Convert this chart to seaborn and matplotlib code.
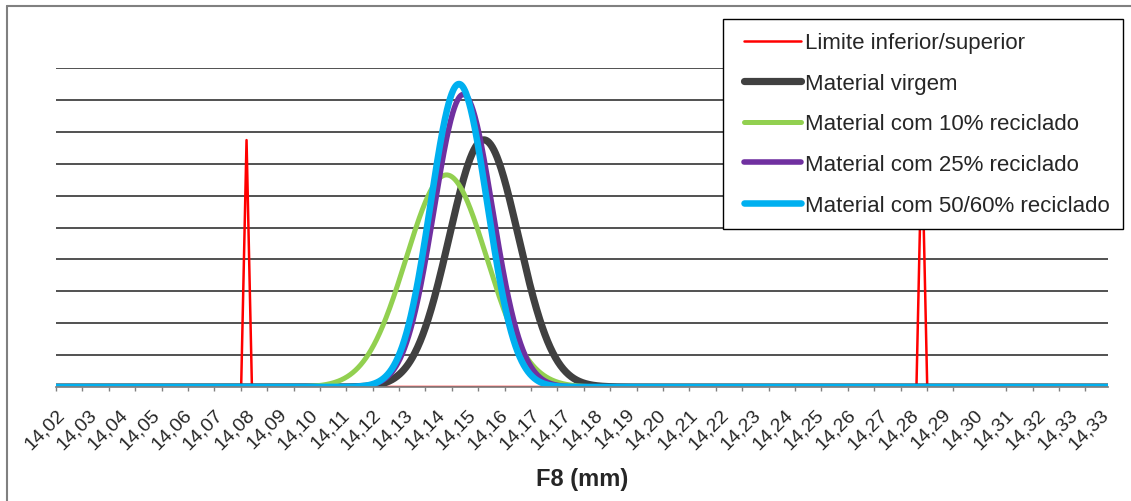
import numpy as np
import pandas as pd
import matplotlib
matplotlib.use('Agg')
import matplotlib.pyplot as plt
import seaborn as sns
from matplotlib.lines import Line2D
from matplotlib.legend_handler import HandlerLine2D
from matplotlib.transforms import ScaledTranslation

# x axis labels as printed in the chart (values rounded to 2 decimals)
tick_labels = ['14,02', '14,03', '14,04', '14,05', '14,06', '14,07', '14,08', '14,09',
               '14,10', '14,11', '14,12', '14,13', '14,14', '14,15', '14,16', '14,17',
               '14,17', '14,18', '14,19', '14,20', '14,21', '14,22', '14,23', '14,24',
               '14,25', '14,26', '14,27', '14,28', '14,29', '14,30', '14,31', '14,32',
               '14,33', '14,33']
label_start = 14.0243
label_step = 0.0094

series = ['Limite inferior/superior', 'Material virgem', 'Material com 10% reciclado',
          'Material com 25% reciclado', 'Material com 50/60% reciclado']
colors = ['#FF0000', '#404040', '#92D050', '#7030A0', '#00B0F0']
widths = [1.8, 5.2, 3.6, 4.0, 4.7]

# lower / upper limit spikes
limit_x = [14.0150, 14.0775, 14.0791, 14.0807, 14.2781, 14.2797, 14.2813, 14.3400]
limit_y = [0, 0, 38.7, 0, 0, 38.7, 0, 0]

# normal curves (mean, std dev)
means = [14.1496, 14.1385, 14.1435, 14.1422]
sds = [0.0103, 0.0120, 0.0087, 0.0084]

xmin, xmax = 14.0225, 14.3350

sns.set_theme(style='white')
plt.rcParams['font.family'] = ['Liberation Sans', 'DejaVu Sans']

fig = plt.figure(figsize=(11.31, 5.02), dpi=100)
ax = fig.add_axes([56 / 1131, 114 / 502, 1052 / 1131, 319 / 502])

df_lim = pd.DataFrame({'x': limit_x, 'y': limit_y})
sns.lineplot(data=df_lim, x='x', y='y', color=colors[0], linewidth=widths[0],
             ax=ax, label=series[0], sort=False)

xs = np.linspace(xmin, xmax, 2000)
for name, c, w, m, s in zip(series[1:], colors[1:], widths[1:], means, sds):
    ys = np.exp(-0.5 * ((xs - m) / s) ** 2) / (s * np.sqrt(2 * np.pi))
    sns.lineplot(x=xs, y=ys, color=c, linewidth=w, ax=ax, label=name,
                 solid_capstyle='round')

ax.set_xlim(xmin, xmax)
ax.set_ylim(0, 50)

# grid
ax.set_yticks(np.arange(5, 51, 5))
ax.yaxis.grid(True, color='#333333', linewidth=1.2)
ax.xaxis.grid(False)
ax.tick_params(axis='y', left=False, labelleft=False)
for sp in ['top', 'right', 'left']:
    ax.spines[sp].set_visible(False)
ax.spines['bottom'].set_color('#808080')

# labels and tick marks
label_pos = label_start + label_step * np.arange(len(tick_labels))
ax.set_xticks(label_pos)
ax.set_xticklabels(tick_labels, rotation=45, ha='right', va='top',
                   rotation_mode='anchor', fontsize=14)
ax.tick_params(axis='x', which='major', length=0, pad=13)
shift = ScaledTranslation(-6 / 100, 0, fig.dpi_scale_trans)
for t in ax.xaxis.get_major_ticks():
    t.label1.set_transform(t.label1.get_transform() + shift)
ax.set_xticks(xmin + 0.00784 * np.arange(40), minor=True)
ax.tick_params(axis='x', which='minor', bottom=True, length=3, width=1,
               color='#808080', direction='out')

ax.set_xlabel('F8 (mm)', fontsize=17, fontweight='bold')
ax.xaxis.set_label_coords(0.5, (388 - 480) / 319)
ax.xaxis.label.set_va('center')
ax.set_ylabel('')

leg = ax.legend(loc='upper left', bbox_to_anchor=(723 / 1131, 1 - 20 / 502),
                bbox_transform=fig.transFigure, frameon=True, fancybox=False,
                edgecolor='black', framealpha=1, fontsize=16, handlelength=2.9,
                handletextpad=0.2, borderpad=0.6, labelspacing=0.88, borderaxespad=0,
                handler_map={Line2D: HandlerLine2D(xpad=0.36)})
leg.get_frame().set_linewidth(1.0)

# chart outer border (left and top)
fig.add_artist(Line2D([6.5 / 1131, 6.5 / 1131], [0, 1 - 6.5 / 502], color='#808080', lw=1.5))
fig.add_artist(Line2D([6.5 / 1131, 1], [1 - 6.5 / 502, 1 - 6.5 / 502], color='#808080', lw=1.5))

fig.savefig('out.png', dpi=100)
